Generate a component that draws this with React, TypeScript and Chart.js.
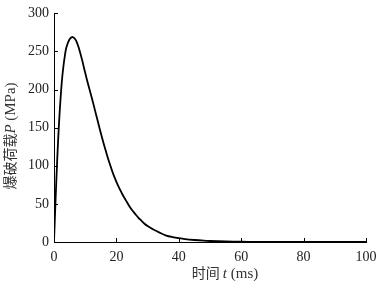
import React, { useEffect, useRef } from "react";
import { Chart, registerables } from "chart.js";

Chart.register(...registerables);

const timeMs = [0, 0.5, 1, 1.5, 2, 2.5, 3, 3.5, 4, 5, 6, 7, 8, 9, 10, 11, 12, 13, 14, 15, 16, 17, 18, 19, 20, 21, 22, 23, 24, 25, 26, 27, 28, 29, 30, 32, 34, 36, 38, 40, 42, 45, 48, 50, 55, 60, 65, 70, 80, 90, 100];
const pressureMPa = [0, 55, 105, 148, 182, 210, 230, 245, 256, 266, 269, 265, 254, 239, 222, 206, 191, 175, 159, 143, 128, 114, 101, 89, 79, 70, 62, 55, 48, 42, 37, 32, 28, 24, 21, 16, 12, 8.5, 6.5, 5, 3.8, 2.6, 1.7, 1.3, 0.7, 0.4, 0.2, 0.1, 0.03, 0, 0];
const xTicks = [0, 20, 40, 60, 80, 100];
const yTicks = [0, 50, 100, 150, 200, 250, 300];

const SERIF = '"Liberation Serif", "Times New Roman", serif';
const CJK = '"Noto Sans CJK SC", sans-serif';

function drawParts(ctx: CanvasRenderingContext2D, parts: { text: string; font: string }[], cx: number, cy: number) {
  let total = 0;
  const widths = parts.map((p) => {
    ctx.font = p.font;
    const w = ctx.measureText(p.text).width;
    total += w;
    return w;
  });
  let x = cx - total / 2;
  parts.forEach((p, i) => {
    ctx.font = p.font;
    ctx.fillText(p.text, x, cy);
    x += widths[i];
  });
}

const customPlugin = {
  id: "customAxes",
  afterDraw(chart: any) {
    const { ctx, chartArea, scales } = chart;
    const xs = scales.x;
    const ys = scales.y;
    ctx.save();
    ctx.strokeStyle = "#000";
    ctx.lineWidth = 1;
    ctx.beginPath();
    xTicks.slice(1).forEach((v) => {
      const px = Math.round(xs.getPixelForValue(v)) + 0.5;
      ctx.moveTo(px, chartArea.bottom);
      ctx.lineTo(px, chartArea.bottom - 4);
    });
    yTicks.slice(1).forEach((v) => {
      const py = Math.round(ys.getPixelForValue(v)) + 0.5;
      ctx.moveTo(chartArea.left, py);
      ctx.lineTo(chartArea.left + 4, py);
    });
    ctx.stroke();

    ctx.fillStyle = "#333";
    ctx.textBaseline = "alphabetic";
    ctx.textAlign = "left";
    // x title
    drawParts(
      ctx,
      [
        { text: "时间 ", font: `14px ${CJK}` },
        { text: "t", font: `italic 15px ${SERIF}` },
        { text: " (ms)", font: `15px ${SERIF}` },
      ],
      225,
      278
    );
    // y title (rotated)
    ctx.translate(15, 136);
    ctx.rotate(-Math.PI / 2);
    drawParts(
      ctx,
      [
        { text: "爆破荷载", font: `14px ${CJK}` },
        { text: "P", font: `italic 15px ${SERIF}` },
        { text: " (MPa)", font: `15px ${SERIF}` },
      ],
      0,
      0
    );
    ctx.restore();
  },
};

export default function App() {
  const ref = useRef<HTMLCanvasElement | null>(null);
  useEffect(() => {
    document.body.style.margin = "0";
    const chart = new Chart(ref.current as HTMLCanvasElement, {
      type: "line",
      data: {
        datasets: [
          {
            data: timeMs.map((t, i) => ({ x: t, y: pressureMPa[i] })),
            borderColor: "#000",
            borderWidth: 1.8,
            pointRadius: 0,
            tension: 0.3,
            fill: false,
          },
        ],
      },
      options: {
        animation: false,
        responsive: false,
        layout: { padding: { top: 10, right: 12, left: 0, bottom: 0 } },
        plugins: { legend: { display: false }, tooltip: { enabled: false } },
        scales: {
          x: {
            type: "linear",
            min: 0,
            max: 100,
            afterFit: (s: any) => {
              s.height = 44;
              s.paddingRight = 0;
              s.paddingLeft = 0;
            },
            afterBuildTicks: (s: any) => {
              s.ticks = xTicks.map((v) => ({ value: v }));
            },
            grid: { display: false, drawTicks: false },
            border: { display: true, color: "#000", width: 1 },
            ticks: { color: "#222", padding: 7, maxRotation: 0, font: { family: SERIF, size: 14 } },
          },
          y: {
            type: "linear",
            min: 0,
            max: 300,
            afterFit: (s: any) => {
              s.width = 54;
            },
            afterBuildTicks: (s: any) => {
              s.ticks = yTicks.map((v) => ({ value: v }));
            },
            grid: { display: false, drawTicks: false },
            border: { display: true, color: "#000", width: 1 },
            ticks: { color: "#222", padding: 5, font: { family: SERIF, size: 14 } },
          },
        },
      },
      plugins: [customPlugin],
    } as any);
    return () => chart.destroy();
  }, []);
  return (
    <div style={{ position: "absolute", left: 0, top: 0, width: 378, height: 286, background: "#fff" }}>
      <canvas ref={ref} width={378} height={286} style={{ width: 378, height: 286 }} />
    </div>
  );
}
